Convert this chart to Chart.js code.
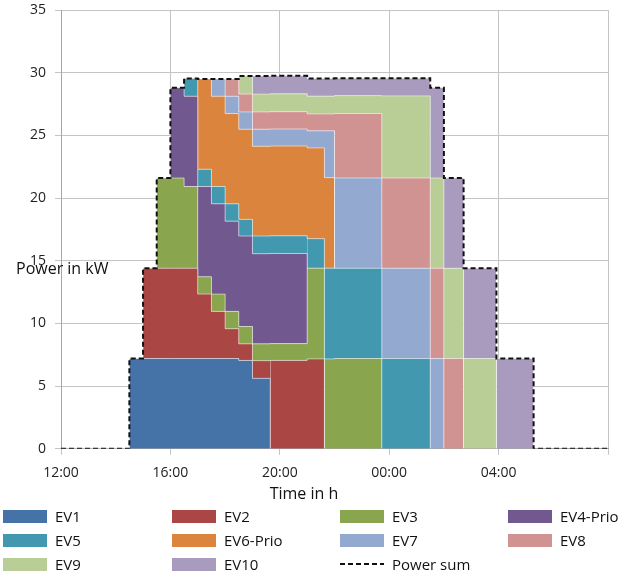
<!DOCTYPE html>
<html>
<head>
<meta charset="utf-8">
<script src="https://cdn.jsdelivr.net/npm/chart.js@4.4.1/dist/chart.umd.min.js"></script>
<style>
  html, body { margin: 0; padding: 0; background: #fff; }
  #wrap { position: relative; width: 634px; height: 575px; font-family: "Open Sans", sans-serif; }
  #chart { position: absolute; left: 0; top: 0; }
  #legend { position: absolute; left: 0; top: 0; width: 634px; height: 575px; }
  .item { position: absolute; height: 20px; display: flex; align-items: center; font-size: 15px; color: #111; white-space: nowrap; }
  .swatch { width: 44px; height: 13px; margin-right: 8px; }
  .dash { width: 44px; height: 2px; margin-right: 8px;
          background: repeating-linear-gradient(to right, #111 0 5px, transparent 5px 8px); }
</style>
</head>
<body>
<div id="wrap">
  <canvas id="chart" width="634" height="506"></canvas>
  <div id="legend"></div>
</div>
<script>
// Hours after 12:00 at which the charging schedule changes
const timeSteps = [0, 2.5, 3, 3.5, 4, 4.5, 5, 5.5, 6, 6.5, 7, 7.65, 9, 9.63, 10, 11.73, 13.5, 14, 14.72, 15.92, 17.28, 20];

// Charging power per vehicle in kW, held from each time step to the next
const ev1  = [0, 7.2, 7.2, 7.2, 7.2, 7.2, 7.2, 7.2, 7.2, 7.05, 5.62, 0, 0, 0, 0, 0, 0, 0, 0, 0, 0, 0];
const ev2  = [0, 0, 7.2, 7.2, 7.2, 7.2, 5.14, 3.76, 2.38, 1.32, 1.41, 7.05, 7.17, 0, 0, 0, 0, 0, 0, 0, 0, 0];
const ev3  = [0, 0, 0, 7.2, 7.2, 6.52, 1.38, 1.38, 1.38, 1.38, 1.34, 1.34, 7.24, 7.17, 7.2, 0, 0, 0, 0, 0, 0, 0];
const ev4  = [0, 0, 0, 0, 7.2, 7.2, 7.2, 7.2, 7.2, 7.22, 7.19, 7.19, 0, 0, 0, 0, 0, 0, 0, 0, 0, 0];
const ev5  = [0, 0, 0, 0, 0, 1.41, 1.38, 1.38, 1.38, 1.33, 1.41, 1.41, 2.35, 7.24, 7.2, 7.2, 0, 0, 0, 0, 0, 0];
const ev6  = [0, 0, 0, 0, 0, 0, 7.2, 7.2, 7.2, 7.19, 7.16, 7.16, 7.24, 7.22, 0, 0, 0, 0, 0, 0, 0, 0];
const ev7  = [0, 0, 0, 0, 0, 0, 0, 1.38, 1.38, 1.38, 1.36, 1.36, 1.36, 3.73, 7.2, 7.2, 7.2, 0, 0, 0, 0, 0];
const ev8  = [0, 0, 0, 0, 0, 0, 0, 0, 1.38, 1.42, 1.38, 1.38, 1.35, 1.35, 5.15, 7.2, 7.2, 7.2, 0, 0, 0, 0];
const ev9  = [0, 0, 0, 0, 0, 0, 0, 0, 0, 1.44, 1.42, 1.42, 1.42, 1.42, 1.42, 6.55, 7.2, 7.2, 7.2, 0, 0, 0];
const ev10 = [0, 0, 0, 0, 0, 0, 0, 0, 0, 0, 1.44, 1.44, 1.41, 1.41, 1.38, 1.4, 7.2, 7.2, 7.2, 7.2, 0, 0];

// Total power drawn by the charging site
const powerSum = [0, 7.2, 14.4, 21.6, 28.8, 29.53, 29.5, 29.5, 29.5, 29.73, 29.73, 29.75, 29.54, 29.54, 29.55, 29.55, 28.8, 21.6, 14.4, 7.2, 0, 0];

const seriesNames = ['EV1', 'EV2', 'EV3', 'EV4-Prio', 'EV5', 'EV6-Prio', 'EV7', 'EV8', 'EV9', 'EV10'];
const seriesValues = [ev1, ev2, ev3, ev4, ev5, ev6, ev7, ev8, ev9, ev10];
const seriesColors = ['#4572A7', '#AA4643', '#89A54E', '#71588F', '#4198AF',
                      '#DB843D', '#93A9CF', '#D19392', '#B9CD96', '#A99BBD'];
const sumName = 'Power sum';
const xAxisTitle = 'Time in h';
const yAxisTitle = 'Power in kW';
const FONT = '"Open Sans", sans-serif';

const toPoints = vals => vals.map((v, i) => ({ x: timeSteps[i], y: v }));

const datasets = seriesValues.map((vals, i) => ({
  label: seriesNames[i],
  data: toPoints(vals),
  stack: 'ev',
  stepped: 'before',
  fill: i === 0 ? 'origin' : '-1',
  backgroundColor: seriesColors[i],
  borderColor: 'rgba(255,255,255,0.5)',
  borderWidth: 1,
  pointRadius: 0,
  segment: {
    borderColor: ctx => (vals[ctx.p0DataIndex] === 0 && vals[ctx.p1DataIndex] === 0)
      ? 'rgba(0,0,0,0)' : 'rgba(255,255,255,0.5)'
  }
}));

datasets.push({
  label: sumName,
  data: toPoints(powerSum),
  stack: 'sum',
  stepped: 'before',
  fill: false,
  borderColor: '#111',
  backgroundColor: '#111',
  borderWidth: 2,
  borderDash: [5, 3],
  pointRadius: 0,
  order: -1
});

// Horizontal y-axis caption placed left of the plot
const yCaption = {
  id: 'yCaption',
  afterDraw(chart) {
    const ctx = chart.ctx;
    ctx.save();
    ctx.font = '16px ' + FONT;
    ctx.fillStyle = '#111';
    ctx.textBaseline = 'middle';
    ctx.textAlign = 'left';
    ctx.fillText(yAxisTitle, 16, 269);
    ctx.restore();
  }
};

const clockLabel = v => {
  if (v >= 20) return '';
  const h = (12 + v) % 24;
  return String(h).padStart(2, '0') + ':00';
};

const chart = new Chart(document.getElementById('chart'), {
  type: 'line',
  data: { datasets },
  plugins: [yCaption],
  options: {
    responsive: false,
    animation: false,
    layout: { padding: { left: 0, right: 26, top: 10, bottom: 0 } },
    plugins: {
      legend: { display: false },
      tooltip: { enabled: false },
      title: {
        display: true, text: xAxisTitle, position: 'bottom', color: '#111',
        font: { family: FONT, size: 16, weight: 'normal' },
        padding: { top: 4, bottom: 2 }
      }
    },
    scales: {
      x: {
        type: 'linear', min: 0, max: 20,
        ticks: { stepSize: 4, callback: clockLabel, color: '#222', font: { family: FONT, size: 14 },
                 padding: 10, maxRotation: 0, autoSkip: false },
        grid: { color: '#c4c4c4', tickLength: 6, lineWidth: 1 },
        border: { color: '#a6a6a6' },
        afterFit: s => { s.height = 32; s.paddingLeft = 0; s.paddingRight = 0; }
      },
      y: {
        min: 0, max: 35, stacked: true,
        ticks: { stepSize: 5, color: '#222', font: { family: FONT, size: 14 }, padding: 9 },
        grid: { color: '#c4c4c4', tickLength: 6, lineWidth: 1 },
        border: { color: '#a6a6a6' },
        afterFit: s => { s.width = 61; s.paddingTop = 0; s.paddingBottom = 0; }
      }
    }
  }
});

// Legend laid out in four columns below the chart
const legend = document.getElementById('legend');
const colX = [3, 172, 340, 508];
const rowY = [516, 540, 564];
chart.data.datasets.forEach((ds, i) => {
  const item = document.createElement('div');
  item.className = 'item';
  item.style.left = colX[i % 4] + 'px';
  item.style.top = (rowY[Math.floor(i / 4)] - 10) + 'px';
  const mark = document.createElement('span');
  if (ds.fill === false) {
    mark.className = 'dash';
  } else {
    mark.className = 'swatch';
    mark.style.background = ds.backgroundColor;
  }
  item.appendChild(mark);
  item.appendChild(document.createTextNode(ds.label));
  legend.appendChild(item);
});
</script>
</body>
</html>
